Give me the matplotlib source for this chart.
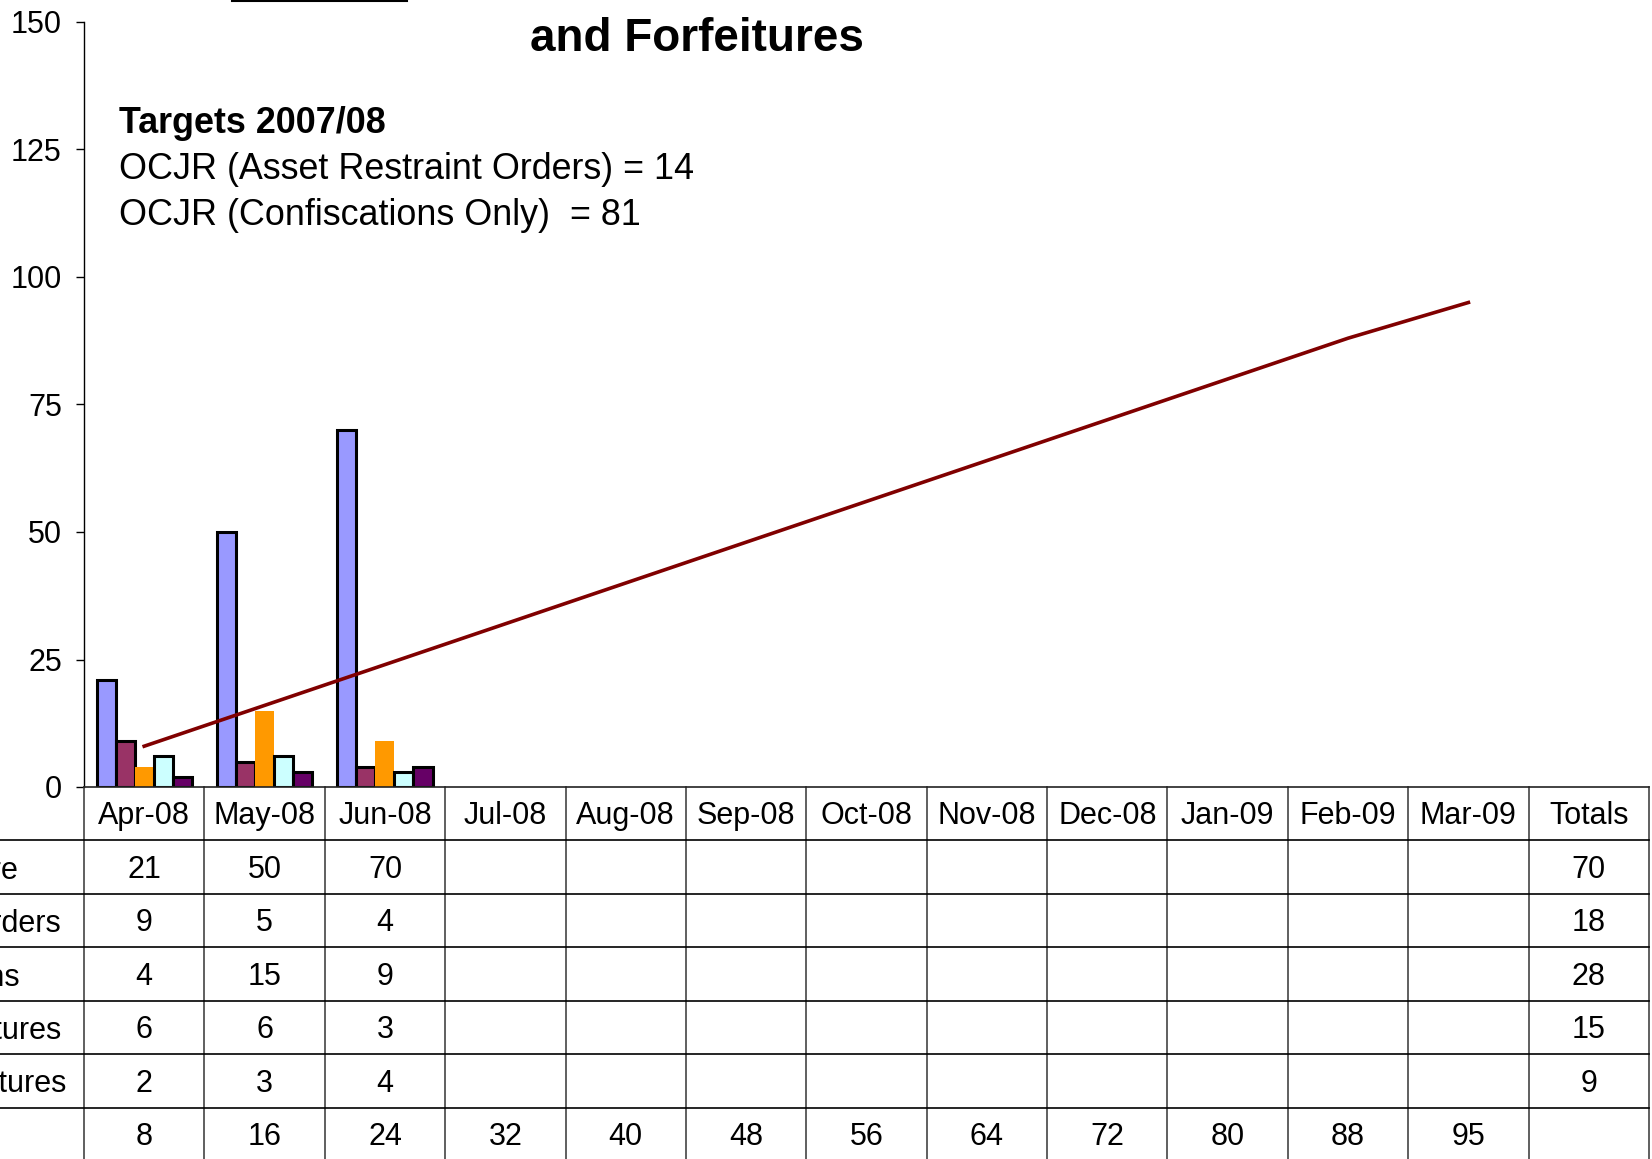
import matplotlib.pyplot as plt
from matplotlib.lines import Line2D
import numpy as np

plt.rcParams['font.family'] = ['Liberation Sans', 'DejaVu Sans']

# data
months = ["Apr-08", "May-08", "Jun-08", "Jul-08", "Aug-08", "Sep-08",
          "Oct-08", "Nov-08", "Dec-08", "Jan-09", "Feb-09", "Mar-09"]
columns = months + ["Totals"]

series_names = ["Cash Seizure", "Restraint Orders", "Confiscations",
                "Cash Forfeitures", "Account Forfeitures"]
series_colors = ["#9999FF", "#993366", "#FF9900", "#CCFFFF", "#660066"]
series_edges = ["black", "black", "none", "black", "black"]

cash_seizure = [21, 50, 70]
restraint_orders = [9, 5, 4]
confiscations = [4, 15, 9]
cash_forfeitures = [6, 6, 3]
account_forfeitures = [2, 3, 4]
series_values = [cash_seizure, restraint_orders, confiscations,
                 cash_forfeitures, account_forfeitures]
series_totals = [70, 18, 28, 15, 9]

target_line = [8, 16, 24, 32, 40, 48, 56, 64, 72, 80, 88, 95]

W, H = 1652, 1159
fig = plt.figure(figsize=(W / 100, H / 100), dpi=100)

# chart area
x0, x1 = 84, 1649
y_top, y_zero = 22, 787
ax = fig.add_axes([x0 / W, 1 - y_zero / H, (x1 - x0) / W, (y_zero - y_top) / H])

n_cols = len(columns)
bar_w = 0.158
for i, vals in enumerate(series_values):
    xs = np.arange(len(vals)) + (i - 2) * bar_w
    ax.bar(xs, vals, width=bar_w, color=series_colors[i],
           edgecolor=series_edges[i], linewidth=2.2, zorder=2)

ax.plot(np.arange(len(target_line)), target_line, color="#800000",
        linewidth=2.6, zorder=3)

ax.set_xlim(-0.5, n_cols - 0.5)
ax.set_ylim(0, 150)
ax.set_yticks(range(0, 151, 25))
ax.set_xticks([])
ax.tick_params(axis='y', labelsize=22, length=6, width=1, pad=10)
for s in ["top", "right", "bottom"]:
    ax.spines[s].set_visible(False)
ax.spines["left"].set_linewidth(1)
ax.patch.set_alpha(0)

# data table under the chart
tab = fig.add_axes([x0 / W, 1 - 1161 / H, (x1 - x0) / W, (1161 - y_zero) / H],
                   sharex=ax)
tab.set_ylim(7, 0)
tab.axis("off")

for k in range(n_cols + 1):
    tab.plot([k - 0.5, k - 0.5], [0, 7], color="#444444", linewidth=1.2,
             clip_on=False)
tab.plot([-0.5, n_cols - 0.5], [0, 0], color="#222222", linewidth=1.2,
         clip_on=False)
for r in range(1, 7):
    tab.plot([-2, n_cols - 0.5], [r, r], color="black", linewidth=1.2,
             clip_on=False)

for c, name in enumerate(columns):
    tab.text(c, 0.55, name, ha="center", va="center", fontsize=22)

for r, vals in enumerate(series_values):
    for c, v in enumerate(vals):
        tab.text(c, r + 1.55, str(v), ha="center", va="center", fontsize=22)
    tab.text(n_cols - 1, r + 1.55, str(series_totals[r]), ha="center",
             va="center", fontsize=22)

for c, v in enumerate(target_line):
    tab.text(c, 6.55, str(v), ha="center", va="center", fontsize=22)

# row labels, left of the table
label_ends = [18, 61, 20, 61, 66]
for r, name in enumerate(series_names):
    fig.text(label_ends[r] / W, 1 - (841 + 53.3 * r + 30) / H, name,
             ha="right", va="center", fontsize=22)

# title and targets note
fig.text(697 / W, 1 - 51 / H, "and Forfeitures", ha="center", va="baseline",
         fontsize=33, fontweight="bold")
fig.add_artist(Line2D([232 / W, 407 / W], [1 - 1 / H, 1 - 1 / H],
                      color="black", linewidth=1.5))
fig.text(119 / W, 1 - 133 / H, "Targets 2007/08", ha="left", va="baseline",
         fontsize=25.8, fontweight="bold")
fig.text(119 / W, 1 - 179 / H, "OCJR (Asset Restraint Orders) = 14",
         ha="left", va="baseline", fontsize=25.8)
fig.text(119 / W, 1 - 225 / H, "OCJR (Confiscations Only)  = 81",
         ha="left", va="baseline", fontsize=25.8)

fig.savefig("out.png", dpi=100)
